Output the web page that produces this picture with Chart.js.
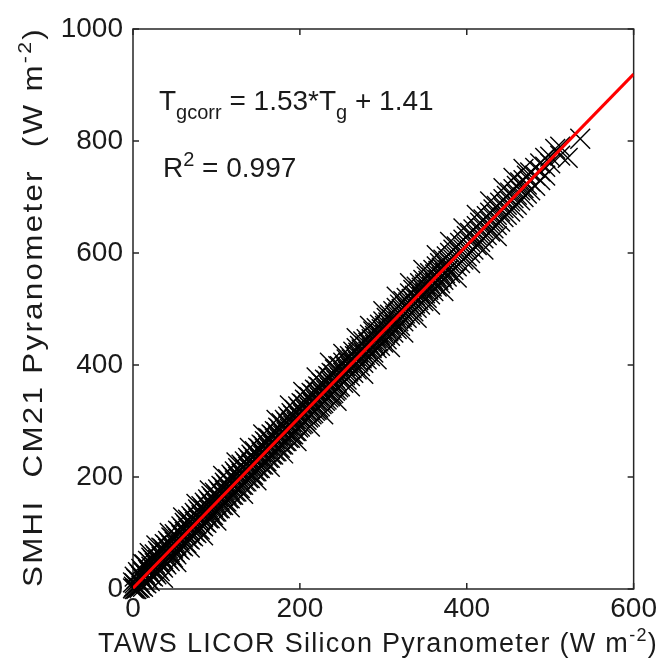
<!DOCTYPE html>
<html><head><meta charset="utf-8">
<script src="https://cdn.jsdelivr.net/npm/chart.js@4.4.1/dist/chart.umd.min.js"></script>
<style>html,body{margin:0;padding:0;background:#fff;}canvas{display:block;}</style>
</head><body>
<canvas id="c" width="660" height="670"></canvas>
<script>
// ---- data ----
const xTickValues = [0, 200, 400, 600];
const xTickLabels = ['0', '200', '400', '600'];
const yTickValues = [0, 200, 400, 600, 800, 1000];
const yTickLabels = ['0', '200', '400', '600', '800', '1000'];
const fitLineX = [0, 600];
const fitLineY = [1.41, 919.41];
const equationText = ['T', 'gcorr', ' = 1.53*T', 'g', ' + 1.41'];
const r2Text = ['R', '2', ' = 0.997'];
const xTitle = 'TAWS LICOR Silicon Pyranometer (W m';
const yTitle = 'SMHI  CM21 Pyranometer  (W m';
// TAWS LICOR (x) vs SMHI CM21 (y)
const measuredPairs = [
[0,1],[0,12],[1,4],[4,18],[4,6],[4,0],[8,26],[8,12],[8,2],
[12,30],[12,18],[12,4],[12,45],[16,40],[16,24],[16,10],
[20,48],[20,30],[20,14],[20,64],[24,52],[24,36],[24,22],
[28,58],[28,42],[28,26],[28,78],[32,64],[32,48],[32,32],
[36,72],[36,54],[36,38],[36,20],[40,78],[40,60],[40,44],
[44,82],[44,66],[44,50],[44,100],[48,90],[48,72],[48,56],
[52,94],[52,78],[52,62],[52,48],[56,102],[56,86],[56,70],
[60,108],[60,92],[60,76],[60,128],[64,114],[64,98],[64,82],
[68,120],[68,104],[68,88],[68,74],[72,126],[72,110],[72,94],
[76,132],[76,116],[76,100],[76,152],[80,138],[80,122],[80,106],
[84,144],[84,128],[84,112],[84,96],[88,150],[88,134],[88,118],
[92,156],[92,140],[92,126],[92,176],[96,162],[96,146],[96,132],
[100,168],[100,152],[100,138],[100,122],[104,174],[104,158],[104,144],
[108,182],[108,166],[108,150],[108,202],[112,186],[112,170],[112,156],
[116,192],[116,176],[116,162],[116,146],[120,200],[120,184],[120,168],
[124,206],[124,190],[124,174],[124,226],[128,212],[128,196],[128,180],
[132,218],[132,202],[132,186],[132,170],[136,224],[136,208],[136,192],
[140,230],[140,214],[140,198],[140,252],[144,236],[144,220],[144,204],
[148,242],[148,226],[148,210],[148,194],[152,250],[152,232],[152,216],
[156,256],[156,238],[156,222],[156,276],[160,262],[160,244],[160,228],
[164,268],[164,250],[164,234],[164,218],[168,274],[168,256],[168,240],
[172,280],[172,262],[172,246],[172,302],[176,286],[176,268],[176,252],
[180,292],[180,274],[180,258],[180,242],[184,298],[184,280],[184,264],
[188,304],[188,286],[188,270],[188,328],[192,310],[192,292],[192,276],
[196,316],[196,298],[196,282],[196,264],[200,322],[200,306],[200,290],
[204,330],[204,312],[204,296],[204,352],[208,336],[208,318],[208,302],
[212,342],[212,324],[212,308],[212,290],[216,348],[216,330],[216,314],
[220,354],[220,336],[220,320],[220,378],[224,360],[224,342],[224,326],
[228,366],[228,348],[228,332],[228,312],[232,372],[232,354],[232,338],
[236,378],[236,360],[236,344],[236,404],[240,384],[240,366],[240,350],
[244,392],[244,372],[244,356],[244,336],[248,398],[248,378],[248,362],
[252,404],[252,386],[252,368],[252,420],[256,410],[256,392],[256,374],
[260,416],[260,398],[260,380],[260,362],[264,424],[264,404],[264,386],
[268,430],[268,410],[268,392],[268,448],[272,434],[272,416],[272,398],
[276,442],[276,422],[276,404],[276,384],[280,446],[280,430],[280,410],
[284,454],[284,436],[284,416],[284,470],[288,460],[288,442],[288,422],
[292,466],[292,448],[292,430],[292,410],[296,472],[296,454],[296,434],
[300,478],[300,460],[300,440],[300,496],[304,484],[304,466],[304,446],
[308,490],[308,472],[308,452],[308,432],[312,496],[312,478],[312,458],
[316,502],[316,484],[316,464],[316,522],[320,508],[320,490],[320,470],
[324,514],[324,496],[324,478],[324,458],[328,520],[328,502],[328,484],
[332,528],[332,508],[332,490],[332,546],[336,534],[336,514],[336,496],
[340,540],[340,520],[340,502],[340,484],[344,546],[344,528],[344,508],
[348,552],[348,534],[348,514],[348,570],[352,558],[352,540],[352,520],
[356,564],[356,546],[356,526],[356,508],[360,570],[360,552],[360,532],
[364,576],[364,558],[364,540],[364,596],[368,582],[368,564],[368,546],
[372,588],[372,570],[372,552],[372,532],[376,594],[376,576],[376,558],
[380,600],[380,582],[380,564],[380,620],[384,606],[384,588],[384,570],
[388,612],[388,594],[388,576],[388,556],[392,618],[392,600],[392,582],
[396,624],[396,606],[396,588],[396,644],[400,630],[400,612],[400,594],
[404,636],[404,620],[404,600],[404,582],[408,642],[408,626],[408,606],
[412,648],[412,632],[412,614],[412,668],[416,654],[416,638],[416,620],
[420,660],[420,644],[420,626],[420,606],[424,666],[424,650],[424,632],
[428,672],[428,656],[428,638],[428,692],[432,678],[432,662],[432,644],
[436,684],[436,668],[436,650],[436,630],[440,690],[440,674],[440,656],
[444,696],[444,680],[444,664],[444,716],[448,702],[448,686],[448,668],
[452,708],[452,692],[452,674],[456,714],[456,698],[456,680],[456,734],
[460,720],[460,704],[460,686],[464,726],[464,712],[464,694],
[468,730],[468,716],[468,700],[468,750],[472,738],[472,722],[472,706],
[476,744],[476,728],[476,712],[482,752],[482,738],[482,720],
[488,760],[488,746],[488,730],[494,770],[494,754],[494,738],
[500,772],[500,760],[506,786],[512,790],[512,774],[521,770],[536,804],
[2,10],[2,0],[2,22],[6,16],[6,2],[6,30],[10,22],[10,6],[10,36],
[14,28],[14,12],[14,44],[18,34],[18,18],[18,50],[22,40],[22,24],[22,56],
[26,46],[26,30],[26,62],[30,52],[30,36],[30,68],[34,58],[34,42],[34,74],
[38,66],[38,48],[38,80],[42,72],[42,54],[42,86],[46,78],[46,60],[46,92],
[50,84],[50,66],[50,98],[54,90],[54,72],[54,104],[58,96],[58,78],[58,112],
[62,102],[62,84],[62,118],[66,108],[66,90],[66,124],[70,114],[70,96],[70,130],
[74,120],[74,102],[74,136],[78,126],[78,108],[78,142],[82,132],[82,114],[82,148],
[86,140],[86,120],[86,154],[90,146],[90,126],[90,160],[94,152],[94,132],[94,166],
[98,158],[98,138],[98,172],[102,164],[102,144],[102,178],[106,170],[106,150],[106,184],
[110,176],[110,156],[110,190],[114,182],[114,162],[114,196],[118,188],[118,168],[118,204],
[122,194],[122,174],[122,210],[126,200],[126,180],[126,216],[130,206],[130,186],[130,222],
[134,212],[134,192],[134,228],[138,218],[138,198],[138,234],[142,224],[142,204],[142,240],
[146,230],[146,210],[146,246],[150,236],[150,216],[150,252],[154,244],[154,222],[154,258],
[158,250],[158,228],[158,264],[162,256],[162,234],[162,270],[166,262],[166,240],[166,276],
[170,268],[170,246],[170,282],[174,274],[174,252],[174,288],[178,280],[178,258],[178,296],
[182,286],[182,264],[182,302],[186,292],[186,270],[186,308],[190,298],[190,276],[190,314],
[194,304],[194,282],[194,320],[198,310],[198,288],[198,326],[202,316],[202,294],[202,332],
[206,322],[206,300],[206,338],[210,328],[210,306],[210,344],[214,334],[214,312],[214,350],
[218,340],[218,318],[218,356],[222,346],[222,324],[222,362],[226,352],[226,330],[226,368],
[230,358],[230,336],[230,374],[234,364],[234,342],[234,380],[238,370],[238,348],[238,386],
[242,376],[242,354],[242,392],[246,382],[246,360],[246,398],
[254,398],[254,382],[258,404],[258,388],[262,410],[262,394],[266,416],[266,400],
[270,422],[270,406],[274,428],[274,412],[278,434],[278,418],[282,440],[282,424],
[286,446],[286,430],[290,452],[290,436],[294,458],[294,442],[298,464],[298,448],
[302,470],[302,454],[306,476],[306,460],[310,482],[310,466],[314,488],[314,472],
[318,494],[318,478],[322,500],[322,486],[326,506],[326,492],[330,512],[330,498],
[334,518],[334,504],[338,524],[338,510],[342,532],[342,516],[346,538],[346,522],
[350,544],[350,528],[354,550],[354,534],[358,556],[358,540],[362,562],[362,546],
[366,568],[366,552],[370,574],[370,558],[374,580],[374,564],[378,586],[378,570]
];

// ---- chart ----
const FAMILY = '"Liberation Sans", Arial, Helvetica, sans-serif';
const TEXT = '#1a1a1a';
const AREA = {left: 133, right: 634, top: 29, bottom: 589};

function drawRich(ctx, parts, x, y, base, spacing, align, stretch) {
  stretch = stretch || 1;
  const fonts = parts.map(p => Math.round(base * (p.s || 1)) + 'px ' + FAMILY);
  ctx.letterSpacing = '0px';
  let natural = 0, chars = 0;
  parts.forEach((p, i) => { ctx.font = fonts[i]; natural += ctx.measureText(p.t).width; chars += p.t.length; });
  let sp = spacing;
  if (typeof spacing === 'object') sp = (spacing.target / stretch - natural) / chars;
  const total = natural + sp * chars;
  ctx.save();
  ctx.translate(x, y);
  ctx.scale(stretch, 1);
  let cx = align === 'center' ? -total / 2 : 0;
  ctx.textAlign = 'left';
  ctx.textBaseline = 'alphabetic';
  parts.forEach((p, i) => {
    ctx.font = fonts[i];
    ctx.letterSpacing = sp + 'px';
    ctx.fillText(p.t, cx, p.dy || 0);
    ctx.letterSpacing = '0px';
    cx += ctx.measureText(p.t).width + sp * p.t.length;
  });
  ctx.restore();
}

const framePlugin = {
  id: 'frame',
  beforeDatasetsDraw(chart) {
    const {ctx, chartArea: a, scales: {x, y}} = chart;
    ctx.save();
    ctx.strokeStyle = '#262626';
    ctx.lineWidth = 1.5;
    ctx.strokeRect(a.left, a.top, a.right - a.left, a.bottom - a.top);
    ctx.beginPath();
    const tl = 6;
    x.ticks.forEach(t => {
      const p = x.getPixelForValue(t.value);
      ctx.moveTo(p, a.bottom); ctx.lineTo(p, a.bottom - tl);
      ctx.moveTo(p, a.top); ctx.lineTo(p, a.top + tl);
    });
    y.ticks.forEach(t => {
      const p = y.getPixelForValue(t.value);
      ctx.moveTo(a.left, p); ctx.lineTo(a.left + tl, p);
      ctx.moveTo(a.right, p); ctx.lineTo(a.right - tl, p);
    });
    ctx.stroke();
    ctx.restore();
  },
  afterDraw(chart) {
    const ctx = chart.ctx;
    ctx.save();
    ctx.fillStyle = TEXT;
    drawRich(ctx, [
      {t: equationText[0]}, {t: equationText[1], s: 0.72, dy: 9},
      {t: equationText[2]}, {t: equationText[3], s: 0.72, dy: 9}, {t: equationText[4]}
    ], 159, 110, 28, 0, 'left');
    drawRich(ctx, [
      {t: r2Text[0]}, {t: r2Text[1], s: 0.72, dy: -11}, {t: r2Text[2]}
    ], 163, 177, 28, 0, 'left');
    drawRich(ctx, [
      {t: xTitle}, {t: '-2', s: 0.68, dy: -11}, {t: ')'}
    ], 378, 652, 27, {target: 560}, 'center');
    ctx.translate(42, 307);
    ctx.rotate(-Math.PI / 2);
    drawRich(ctx, [
      {t: yTitle}, {t: '-2', s: 0.68, dy: -11}, {t: ')'}
    ], 0, 0, 28, {target: 560}, 'center', 1.12);
    ctx.restore();
  }
};

new Chart(document.getElementById('c'), {
  data: {
    datasets: [
      {
        type: 'line',
        data: fitLineX.map((v, i) => ({x: v, y: fitLineY[i]})),
        borderColor: '#ff0000',
        borderWidth: 3,
        pointRadius: 0,
        fill: false,
        order: 0
      },
      {
        type: 'scatter',
        data: measuredPairs.map(p => ({x: p[0], y: p[1]})),
        pointStyle: 'crossRot',
        pointRadius: 14,
        borderColor: '#000000',
        backgroundColor: '#000000',
        pointBorderWidth: 1.4,
        clip: false,
        order: 1
      }
    ]
  },
  options: {
    responsive: false,
    devicePixelRatio: 1,
    animation: false,
    events: [],
    layout: {padding: {top: AREA.top, right: 660 - AREA.right, left: 0, bottom: 0}},
    plugins: {legend: {display: false}, tooltip: {enabled: false}},
    scales: {
      x: {
        type: 'linear', position: 'bottom', min: 0, max: 600,
        afterBuildTicks: s => { s.ticks = xTickValues.map(v => ({value: v})); },
        ticks: {
          padding: 3, color: TEXT, maxRotation: 0,
          font: {family: FAMILY, size: 28},
          callback: v => xTickLabels[xTickValues.indexOf(v)]
        },
        grid: {display: false, drawTicks: false},
        border: {display: false},
        afterFit: s => { s.height = 670 - AREA.bottom; }
      },
      y: {
        type: 'linear', position: 'left', min: 0, max: 1000,
        afterBuildTicks: s => { s.ticks = yTickValues.map(v => ({value: v})); },
        ticks: {
          padding: 10, color: TEXT,
          font: {family: FAMILY, size: 28},
          callback: v => yTickLabels[yTickValues.indexOf(v)]
        },
        grid: {display: false, drawTicks: false},
        border: {display: false},
        afterFit: s => { s.width = AREA.left; }
      }
    }
  },
  plugins: [framePlugin]
});
</script>
</body></html>
